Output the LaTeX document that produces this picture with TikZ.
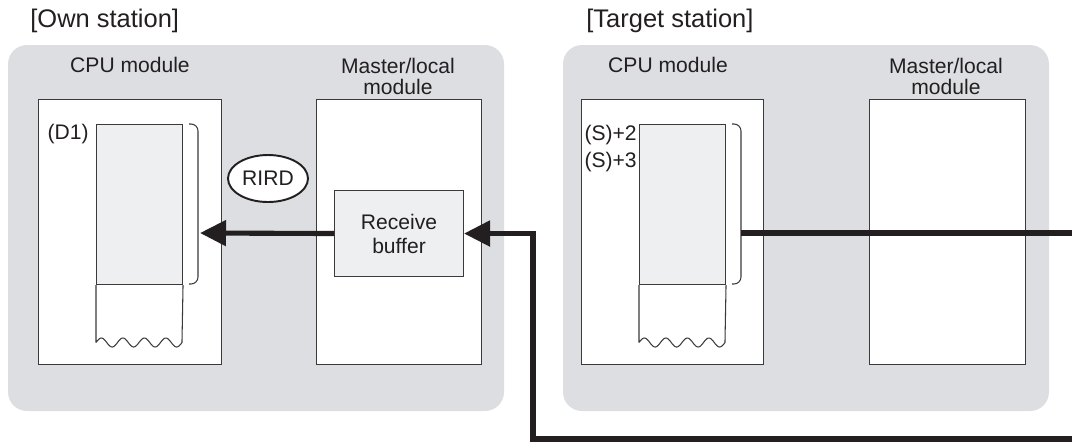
\documentclass[tikz,border=0pt]{standalone}
\usepackage{fontspec}
\setmainfont{Liberation Sans}
\usetikzlibrary{arrows.meta,shapes.geometric}
\definecolor{panelgray}{HTML}{DCDEE2}
\definecolor{memgray}{HTML}{EEEFF1}
\definecolor{linec}{HTML}{3A3A3A}
\definecolor{inkc}{HTML}{231F20}
\tikzset{
  panel/.style={fill=panelgray, draw=none, rounded corners=0.38cm},
  modbox/.style={draw=linec, line width=0.6pt, fill=white, anchor=north west, inner sep=0pt},
  membox/.style={draw=linec, line width=0.6pt, fill=memgray, anchor=north west, inner sep=0pt},
  thinline/.style={draw=linec, line width=0.6pt},
  brk/.style={draw=linec, line width=0.6pt, rounded corners=4pt},
  flow/.style={draw=inkc, line width=2.9pt},
  flowarrow/.style={flow, -{Triangle[length=0.52cm,width=0.5cm]}},
  lbl/.style={text=inkc, inner sep=0pt, font=\fontsize{12}{13.6}\selectfont},
  ttl/.style={text=inkc, inner sep=0pt, anchor=west, font=\fontsize{14.5}{16}\selectfont},
}
\begin{document}
\begin{tikzpicture}[x=0.02cm, y=-0.02cm]
\useasboundingbox (0,0) rectangle (1072,441);
% panels
\fill[panel] (8,45) rectangle (504,411);
\fill[panel] (563,45) rectangle (1049,411);
% titles
\node[ttl] (t1) at (30,21) {[Own station]};
\node[ttl] (t2) at (586,21) {[Target station]};
% own station
\node[lbl] (h1) at (130,65) {CPU module};
\node[lbl, align=center] (h2) at (398,76) {Master/local\\[-1.6pt]module};
\node[modbox, minimum width=3.66cm, minimum height=5.3cm] (cpuA) at (38,99) {};
\node[modbox, minimum width=3.3cm, minimum height=5.3cm] (mlA) at (316,99) {};
\node[membox, minimum width=1.72cm, minimum height=3.2cm] (memA) at (96,124) {};
\draw[thinline] (memA.south west) -- (96,342.5)
  plot[domain=0:4, samples=100, smooth] ({96+\x*21.5}, {342.5-4.5*sin(\x*360)})
  -- (memA.south east);
\draw[brk] (189,124) -- (198,124) -- (198,284) -- (189,284);
\coordinate (brA) at (200,233);
\node[lbl, anchor=east] (d1) at (89,134) {(D1)};
\node[ellipse, draw=inkc, line width=1.1pt, fill=white, minimum width=1.6cm, minimum height=0.94cm, inner sep=0pt, text=inkc, font=\fontsize{12}{13.6}\selectfont] (rird) at (268,178.5) {RIRD};
\node[membox, minimum width=2.58cm, minimum height=1.72cm, align=center, anchor=north west, text=inkc, font=\fontsize{12}{13.6}\selectfont] (buf) at (334,190) {Receive\\buffer};
% target station
\node[lbl] (h3) at (668,65) {CPU module};
\node[lbl, align=center] (h4) at (946,76) {Master/local\\[-1.6pt]module};
\node[modbox, minimum width=3.64cm, minimum height=5.3cm] (cpuB) at (581,99) {};
\node[modbox, minimum width=3.12cm, minimum height=5.3cm] (mlB) at (869,99) {};
\node[membox, minimum width=1.72cm, minimum height=3.2cm] (memB) at (639,124) {};
\draw[thinline] (memB.south west) -- (639,342.5)
  plot[domain=0:4, samples=100, smooth] ({639+\x*21.5}, {342.5-4.5*sin(\x*360)})
  -- (memB.south east);
\draw[brk] (732,124) -- (741,124) -- (741,284) -- (732,284);
\coordinate (brB) at (741,233);
\node[lbl, anchor=east] (s2) at (637,135) {(S)+2};
\node[lbl, anchor=east] (s3) at (637,162) {(S)+3};
% connectors
\coordinate (edgeR) at (1074,233);
\coordinate (edgeBR) at (1074,439);
\coordinate (turn) at (533,439);
\draw[flowarrow] (buf.west) -- (brA);
\draw[flow] (brB) -- (edgeR);
\draw[flowarrow, line join=miter] (edgeBR) -- (turn) |- (buf.east);
\end{tikzpicture}
\end{document}
